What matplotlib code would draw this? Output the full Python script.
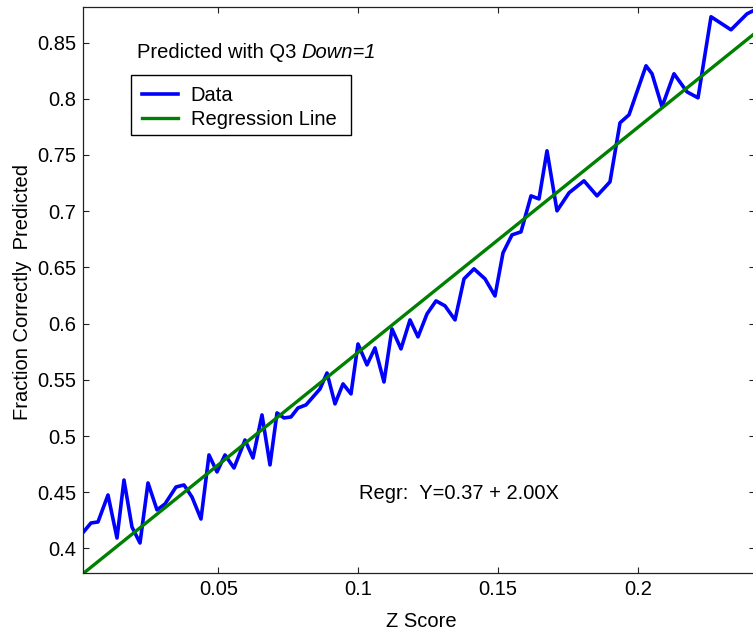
import matplotlib
matplotlib.use("Agg")
import matplotlib.pyplot as plt
from matplotlib.patches import Rectangle
import numpy as np

# ---- data ----
z_score = [0.00179, 0.00447, 0.00697, 0.01055, 0.01377, 0.01627, 0.01913, 0.02200,
           0.02486, 0.02808, 0.03094, 0.03487, 0.03773, 0.04059, 0.04381, 0.04667,
           0.04954, 0.05240, 0.05562, 0.05955, 0.06241, 0.06563, 0.06849, 0.07100,
           0.07350, 0.07600, 0.07850, 0.08137, 0.08387, 0.08637, 0.08888, 0.09174,
           0.09460, 0.09746, 0.09996, 0.10318, 0.10604, 0.10926, 0.11212, 0.11534,
           0.11856, 0.12142, 0.12464, 0.12786, 0.13108, 0.13466, 0.13788, 0.14145,
           0.14539, 0.14896, 0.15182, 0.15504, 0.15826, 0.16184, 0.16470, 0.16756,
           0.17114, 0.17543, 0.18079, 0.18544, 0.19009, 0.19367, 0.19689, 0.20297,
           0.20512, 0.20869, 0.21298, 0.21763, 0.22157, 0.22622, 0.23337, 0.23909,
           0.24124]
fraction = [0.4147, 0.4227, 0.4236, 0.4476, 0.4093, 0.4609, 0.4191, 0.4049,
            0.4583, 0.4343, 0.4396, 0.4547, 0.4565, 0.4458, 0.4262, 0.4832,
            0.4681, 0.4832, 0.4716, 0.4965, 0.4805, 0.5188, 0.4743, 0.5206,
            0.5161, 0.5170, 0.5250, 0.5277, 0.5348, 0.5419, 0.5561, 0.5286,
            0.5464, 0.5375, 0.5819, 0.5633, 0.5784, 0.5481, 0.5953, 0.5775,
            0.6033, 0.5882, 0.6086, 0.6202, 0.6158, 0.6033, 0.6398, 0.6487,
            0.6398, 0.6246, 0.6629, 0.6789, 0.6816, 0.7136, 0.7109, 0.7537,
            0.7003, 0.7163, 0.7270, 0.7136, 0.7261, 0.7786, 0.7857, 0.8293,
            0.8222, 0.7928, 0.8222, 0.8061, 0.8008, 0.8729, 0.8613, 0.8755,
            0.8782]
regr_intercept = 0.3744
regr_slope = 2.00

x_ticks = [0.05, 0.1, 0.15, 0.2]
x_tick_labels = ["0.05", "0.1", "0.15", "0.2"]
y_ticks = [0.4, 0.45, 0.5, 0.55, 0.6, 0.65, 0.7, 0.75, 0.8, 0.85]
y_tick_labels = ["0.4", "0.45", "0.5", "0.55", "0.6", "0.65", "0.7", "0.75", "0.8", "0.85"]

# ---- figure ----
plt.rcParams['font.family'] = ['Liberation Sans', 'DejaVu Sans']
FS = 14.5
W, H = 753, 634
fig = plt.figure(figsize=(W / 100, H / 100), dpi=100)
L, R, B, T = 83.3, 755.0, 573.3, 7.0
ax = fig.add_axes([L / W, (H - B) / H, (R - L) / W, (B - T) / H])

x = np.array(z_score)
y = np.array(fraction)
ax.plot(x, y, color='#0000ff', lw=2.6, label='Data')
ax.plot(x, regr_intercept + regr_slope * x, color='#008000', lw=2.4,
        label='Regression Line')

ax.set_xlim(0.00172, 0.24195)
ax.set_ylim(0.37794, 0.88158)
ax.set_xticks(x_ticks)
ax.set_xticklabels(x_tick_labels)
ax.set_yticks(y_ticks)
ax.set_yticklabels(y_tick_labels)
ax.tick_params(direction='in', length=4.5, width=0.8, top=True, right=True,
               labelsize=FS, pad=5, colors='#222222', labelcolor='black')
for s in ax.spines.values():
    s.set_linewidth(0.9)
    s.set_color('#222222')

ax.set_xlabel('Z Score', fontsize=FS, va='baseline')
ax.xaxis.set_label_coords(0.5038, -0.0957)
ax.set_ylabel('Fraction Correctly  Predicted', fontsize=FS)
ax.yaxis.set_label_coords(-0.0771, 0.4967)

# legend frame (MATLAB-style box)
bx0, bx1, by0, by1 = 130.7, 350.7, 75.0, 135.0
ax.add_patch(Rectangle((bx0 / W, 1 - by1 / H), (bx1 - bx0) / W, (by1 - by0) / H,
                       transform=fig.transFigure, facecolor='white',
                       edgecolor='black', linewidth=1.0, zorder=4, clip_on=False))
leg = ax.legend(loc='upper left', bbox_to_anchor=(bx0 / W, 1 - by0 / H),
                bbox_transform=fig.transFigure, borderaxespad=0, fontsize=FS,
                frameon=False, handlelength=1.8,
                handletextpad=0.62, borderpad=0.55, labelspacing=0.25)
leg.set_zorder(6)

t1 = fig.text(136.7 / W, 1 - 58 / H, 'Predicted with Q3', fontsize=FS,
              va='baseline', ha='left')
ax.annotate('Down=1', xy=(1, 0), xycoords=t1, xytext=(4.0, 0),
            textcoords='offset points', fontsize=FS, style='italic',
            va='bottom', ha='left')

fig.text(359.3 / W, 1 - 499.3 / H, 'Regr:  Y=0.37 + 2.00X', fontsize=FS,
         va='baseline', ha='left')

fig.savefig('out.png', dpi=100)
